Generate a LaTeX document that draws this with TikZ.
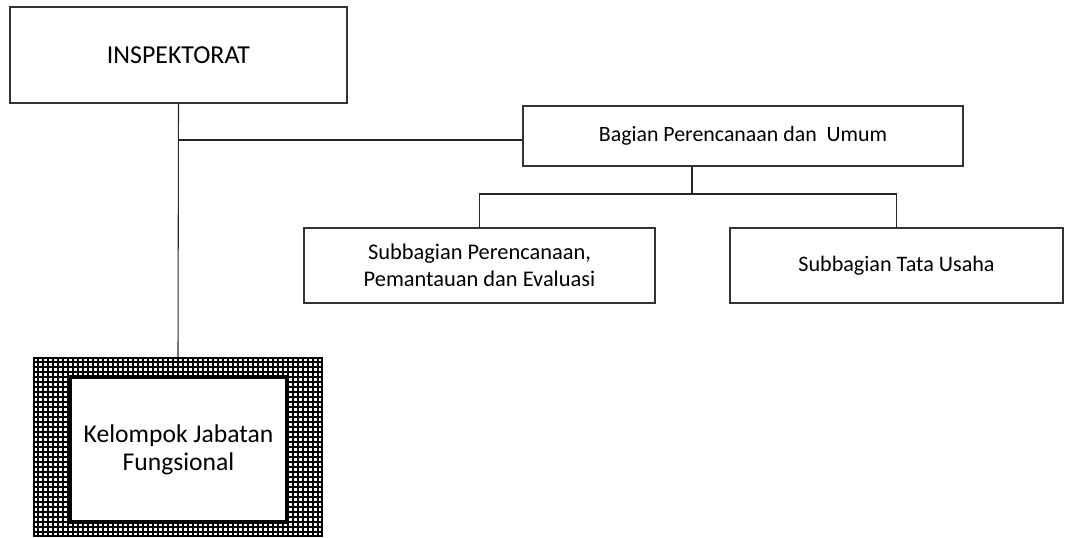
\documentclass[tikz,border=0pt]{standalone}
\usepackage{fontspec}
\setmainfont{Carlito}
\begin{document}
\begin{tikzpicture}[x=0.75pt,y=0.75pt,
	unitbox/.style={draw=black!80, line width=0.8pt, fill=white, align=center, inner sep=0pt},
	link/.style={draw=black!85, line width=0.8pt}]

	%frame of the picture
	\useasboundingbox (0,0) rectangle (1073,538);

	%the offices
	\node[unitbox, minimum width=337*0.75pt, minimum height=96*0.75pt, font=\fontsize{19.4}{22}\selectfont] (insp) at (178.5,483) {INSPEKTORAT};
	\node[unitbox, minimum width=440*0.75pt, minimum height=60*0.75pt, font=\fontsize{16.4}{20}\selectfont] (bagian) at (743,402) {Bagian Perencanaan dan \ Umum};
	\node[unitbox, minimum width=351*0.75pt, minimum height=75*0.75pt, font=\fontsize{16.8}{20}\selectfont] (subren) at (479.5,272.5) {Subbagian Perencanaan,\\Pemantauan dan Evaluasi};
	\node[unitbox, minimum width=333*0.75pt, minimum height=75*0.75pt, font=\fontsize{16.6}{20}\selectfont] (subtu) at (896.5,272.5) {Subbagian Tata Usaha};

	%the functional group with its grid border
	\node[draw=black, line width=1.5pt, minimum width=288*0.75pt, minimum height=178*0.75pt, inner sep=0pt,
		path picture={\draw[black, line width=0.9pt, step=3.75pt] (path picture bounding box.south west) grid (path picture bounding box.north east);}] (kjfgrid) at (178,91) {};
	\node[draw=black, line width=3pt, fill=white, minimum width=217*0.75pt, minimum height=145*0.75pt, inner sep=0pt, align=center, font=\fontsize{19.2}{21}\selectfont] (kjf) at (178.5,88.5) {Kelompok Jabatan\\Fungsional};

	%connectors
	\coordinate (branch) at (insp.south |- 0,398);
	\coordinate (split) at (692,344);
	\draw[link] (insp.south) -- (kjfgrid.north);
	\draw[link] (bagian.west |- branch) -- (branch);
	\draw[link] (bagian.south -| split) -- (split);
	\draw[link] (subren.north) |- (split) -| (subtu.north);

\end{tikzpicture}
\end{document}
